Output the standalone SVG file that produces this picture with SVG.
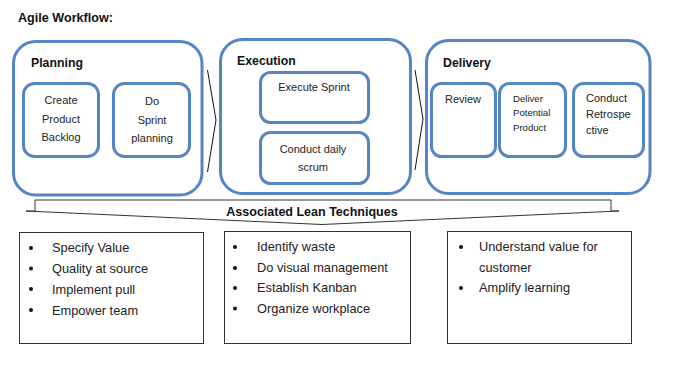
<svg xmlns="http://www.w3.org/2000/svg" width="697" height="377" viewBox="0 0 697 377">
<defs>
<style>
.outer{fill:#fff;stroke:#5585C2;stroke-width:3}
.inner{fill:#fff;stroke:#5585C2;stroke-width:3}
.t{font-family:"Liberation Sans",Arial,sans-serif;fill:#222}
.title{font-family:"Liberation Sans",Arial,sans-serif;font-weight:bold;fill:#111;font-size:12.3px}
.it{font-size:11px;text-anchor:middle}
.bt{font-size:12.8px}
.lbox{fill:#fff;stroke:#333;stroke-width:1}
.chev{fill:none;stroke:#111;stroke-width:1}
</style>
</defs>
<rect width="697" height="377" fill="#fff"/>
<text class="title" x="18" y="22" style="font-size:12.6px">Agile Workflow:</text>

<g id="planning">
<rect class="outer" x="13.5" y="41.5" width="188.5" height="153.5" rx="22"/>
<text class="title" x="31" y="67">Planning</text>
</g>
<g id="create-backlog">
<rect class="inner" x="23.5" y="83.5" width="75" height="73" rx="11"/>
<text class="t it" x="61" y="104">Create</text>
<text class="t it" x="61" y="123">Product</text>
<text class="t it" x="61" y="141">Backlog</text>
</g>
<g id="sprint-planning">
<rect class="inner" x="113.5" y="83.5" width="76" height="73" rx="11"/>
<text class="t it" x="152" y="105">Do</text>
<text class="t it" x="152" y="124">Sprint</text>
<text class="t it" x="152" y="142">planning</text>
</g>

<g id="execution">
<rect class="outer" x="220.5" y="39.5" width="190" height="154" rx="22"/>
<text class="title" x="237" y="65">Execution</text>
</g>
<g id="execute-sprint">
<rect class="inner" x="260.5" y="72.5" width="108" height="50" rx="10"/>
<text class="t it" x="314" y="91">Execute Sprint</text>
</g>
<g id="daily-scrum">
<rect class="inner" x="260.5" y="132.5" width="108" height="51" rx="10"/>
<text class="t it" x="313" y="153">Conduct daily</text>
<text class="t it" x="313" y="171">scrum</text>
</g>

<g id="delivery">
<rect class="outer" x="426.5" y="40.5" width="223.5" height="153" rx="22"/>
<text class="title" x="443" y="67">Delivery</text>
</g>
<g id="review">
<rect class="inner" x="431.5" y="83.5" width="64" height="73" rx="10"/>
<text class="t" x="445" y="103" style="font-size:11px">Review</text>
</g>
<g id="deliver-product">
<rect class="inner" x="499.5" y="83.5" width="66" height="73" rx="10"/>
<text class="t" x="513" y="101.5" style="font-size:9.6px">Deliver</text>
<text class="t" x="513" y="116" style="font-size:9.6px">Potential</text>
<text class="t" x="513" y="130.5" style="font-size:9.6px">Product</text>
</g>
<g id="retrospective">
<rect class="inner" x="573.5" y="83.5" width="70" height="73" rx="10"/>
<text class="t" x="586" y="102" style="font-size:11px">Conduct</text>
<text class="t" x="586" y="118" style="font-size:11px">Retrospe</text>
<text class="t" x="586" y="134" style="font-size:11px">ctive</text>
</g>

<g id="connectors">
<polyline class="chev" points="207.5,70 216,120 207.5,172"/>
<polyline class="chev" points="415,70 423,119 415,170"/>
</g>

<g id="lean-brace">
<path d="M26,211 L35,211 L35,200 L611,200 L611,211 L619,211 L322,224.5 Z" fill="#fff" stroke="#333" stroke-width="1"/>
<text class="title" x="312" y="216" text-anchor="middle" style="font-size:12.5px">Associated Lean Techniques</text>
</g>

<g id="lean-box-1">
<rect class="lbox" x="19.5" y="232.5" width="184" height="111"/>
<circle cx="31" cy="248" r="2" fill="#111"/>
<circle cx="31" cy="268.5" r="2" fill="#111"/>
<circle cx="31" cy="289" r="2" fill="#111"/>
<circle cx="31" cy="310" r="2" fill="#111"/>
<text class="t bt" x="52" y="252">Specify Value</text>
<text class="t bt" x="52" y="273">Quality at source</text>
<text class="t bt" x="52" y="294">Implement pull</text>
<text class="t bt" x="52" y="315">Empower team</text>
</g>
<g id="lean-box-2">
<rect class="lbox" x="224.5" y="231.5" width="186" height="112"/>
<circle cx="235" cy="247" r="2" fill="#111"/>
<circle cx="235" cy="268" r="2" fill="#111"/>
<circle cx="235" cy="288" r="2" fill="#111"/>
<circle cx="235" cy="308.5" r="2" fill="#111"/>
<text class="t bt" x="257" y="251">Identify waste</text>
<text class="t bt" x="257" y="272">Do visual management</text>
<text class="t bt" x="257" y="292">Establish Kanban</text>
<text class="t bt" x="257" y="313">Organize workplace</text>
</g>
<g id="lean-box-3">
<rect class="lbox" x="447.5" y="231.5" width="184" height="112"/>
<circle cx="461" cy="247" r="2" fill="#111"/>
<circle cx="461" cy="288" r="2" fill="#111"/>
<text class="t bt" x="479" y="251">Understand value for</text>
<text class="t bt" x="479" y="272">customer</text>
<text class="t bt" x="479" y="292">Amplify learning</text>
</g>
</svg>
